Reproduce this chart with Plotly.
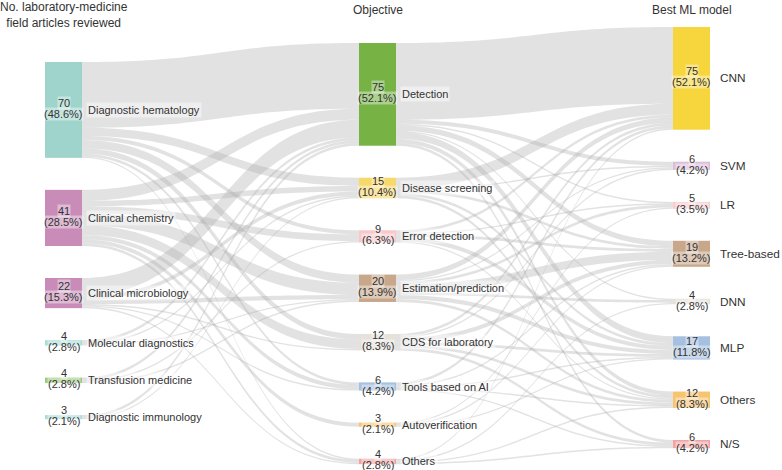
import math
import plotly.graph_objects as go

# ---------------- data ----------------
fields = ["Diagnostic hematology", "Clinical chemistry", "Clinical microbiology",
          "Molecular diagnostics", "Transfusion medicine", "Diagnostic immunology"]
objectives = ["Detection", "Disease screening", "Error detection", "Estimation/prediction",
              "CDS for laboratory", "Tools based on AI", "Autoverification", "Others"]
models = ["CNN", "SVM", "LR", "Tree-based", "DNN", "MLP", "Others", "N/S"]

# rows: fields, cols: objectives
field_to_objective = [
    [48, 6, 3, 6, 4, 2, 0, 1],
    [8, 4, 5, 9, 7, 3, 3, 2],
    [13, 3, 0, 3, 1, 1, 0, 1],
    [2, 1, 0, 1, 0, 0, 0, 0],
    [2, 0, 1, 1, 0, 0, 0, 0],
    [2, 1, 0, 0, 0, 0, 0, 0],
]
# rows: objectives, cols: models
objective_to_model = [
    [56, 3, 1, 4, 1, 5, 3, 2],
    [8, 1, 0, 2, 0, 2, 2, 0],
    [2, 0, 1, 2, 0, 3, 1, 0],
    [4, 1, 2, 6, 2, 3, 2, 0],
    [2, 1, 0, 3, 0, 2, 2, 2],
    [2, 0, 0, 1, 0, 1, 1, 1],
    [0, 0, 1, 1, 0, 1, 0, 0],
    [1, 0, 0, 0, 1, 0, 1, 1],
]

column_titles = ["No. laboratory-medicine<br>field articles reviewed", "Objective", "Best ML model"]

field_colors = ["#9fd4cc", "#c98cb9", "#c98cb9", "#a9ddd7", "#9dcc7c", "#a9ddd7"]
objective_colors = ["#76b244", "#f7d86a", "#f8c9cc", "#c9a78b", "#e6e1da", "#a5c0e0", "#f7c470", "#f3a3a3"]
model_colors = ["#f6d63c", "#dabfd9", "#f8cdd1", "#c9a78b", "#e6e1da", "#a5c0e0", "#f7c470", "#f3a3a3"]

# ---------------- layout constants ----------------
W, H = 782, 470
ML, MR, MT, MB = 45, 72, 27, 5
PW, PH = W - ML - MR, H - MT - MB
THICK = 37
PAD = 34.4
GAP = 32
col_x_px = [THICK / 2, PW / 2, PW - THICK / 2]
col_top_px = [35, 16, 0]
FONT = "Liberation Sans, Arial, sans-serif"
TXT = "#333333"

# ---------------- derived values ----------------
field_vals = [sum(r) for r in field_to_objective]
objective_vals = [sum(r) for r in objective_to_model]
model_vals = [sum(objective_to_model[i][j] for i in range(len(objectives))) for j in range(len(models))]
total = sum(field_vals)

columns = [field_vals, objective_vals, model_vals]
max_nodes = max(len(c) for c in columns)
ky = (PH - (max_nodes - 1) * PAD) / total

labels, colors, xs, ys, vals, cols = [], [], [], [], [], []
for ci, (names, vlist, clist) in enumerate(zip([fields, objectives, models], columns,
                                               [field_colors, objective_colors, model_colors])):
    y = col_top_px[ci]
    for name, v, c in zip(names, vlist, clist):
        h = v * ky
        labels.append(name)
        colors.append(c)
        xs.append(col_x_px[ci] / PW)
        ys.append((y + h / 2) / PH)
        vals.append(v)
        cols.append(ci)
        y += h + GAP

nf, no = len(fields), len(objectives)
src, tgt, val = [], [], []
for i in range(nf):
    for j in range(no):
        if field_to_objective[i][j] > 0:
            src.append(i); tgt.append(nf + j); val.append(field_to_objective[i][j])
for i in range(no):
    for j in range(len(models)):
        if objective_to_model[i][j] > 0:
            src.append(nf + i); tgt.append(nf + no + j); val.append(objective_to_model[i][j])

fig = go.Figure(go.Sankey(
    arrangement="fixed",
    node=dict(label=labels, color=colors, x=xs, y=ys, pad=PAD, thickness=THICK,
              line=dict(width=0)),
    link=dict(source=src, target=tgt, value=val, color="rgba(171,171,171,0.35)"),
    textfont=dict(color="rgba(0,0,0,0)", size=1),
))

def pct(v):
    return math.floor(v * 1000 / total + 0.5) / 10

ann = []
for name, x, y, v, ci in zip(labels, xs, ys, vals, cols):
    yp = 1 - y
    ann.append(dict(x=x, y=yp, xref="paper", yref="paper", text=str(v), showarrow=False,
                    xanchor="center", yanchor="middle", yshift=7, borderpad=0,
                    bgcolor="rgba(255,255,255,0.4)", font=dict(size=11, color=TXT, family=FONT)))
    ann.append(dict(x=x, y=yp, xref="paper", yref="paper", text=f"({pct(v):.1f}%)", showarrow=False,
                    xanchor="center", yanchor="middle", yshift=-4, borderpad=0,
                    bgcolor="rgba(255,255,255,0.4)", font=dict(size=11, color=TXT, family=FONT)))
    if ci < 2:
        ann.append(dict(x=x, y=yp, xref="paper", yref="paper", text=name, showarrow=False,
                        xanchor="left", yanchor="middle", xshift=THICK / 2 + 4, borderpad=1,
                        bgcolor="rgba(255,255,255,0.45)", font=dict(size=11, color=TXT, family=FONT)))
    else:
        ann.append(dict(x=x, y=yp, xref="paper", yref="paper", text=name, showarrow=False,
                        xanchor="left", yanchor="middle", xshift=THICK / 2 + 8,
                        font=dict(size=11.8, color=TXT, family=FONT)))

title_y_px = [15, 10, 10]
for ci, t in enumerate(column_titles):
    ann.append(dict(x=col_x_px[ci] / PW, y=1 + (MT - title_y_px[ci]) / PH, xref="paper", yref="paper",
                    text=t, showarrow=False, xanchor="center", yanchor="middle",
                    font=dict(size=12, color=TXT, family=FONT)))

fig.update_layout(width=W, height=H, margin=dict(l=ML, r=MR, t=MT, b=MB),
                  paper_bgcolor="white", plot_bgcolor="white", annotations=ann,
                  font=dict(family=FONT))
fig.write_html("out.html", config={"displayModeBar": False},
               post_script="document.body.style.margin='0';document.body.style.padding='0';")
